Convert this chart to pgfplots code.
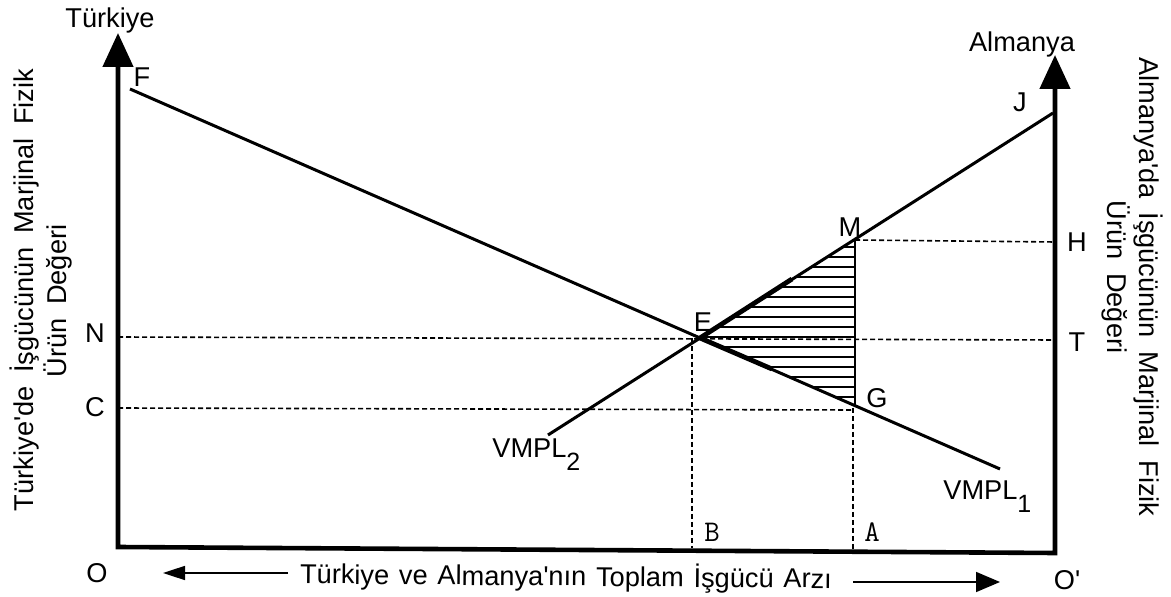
\documentclass[border=0pt]{standalone}
\usepackage{fontspec}
\setmainfont{Liberation Sans}
\usepackage{pgfplots}
\pgfplotsset{compat=1.18}
\usetikzlibrary{arrows.meta,patterns.meta}
\newcommand\ws{\hspace{0.5em}}
\newcommand\ap{\textquotesingle}
\tikzset{
  lab/.style={font=\fontsize{13.6}{16}\selectfont, inner sep=0pt},
  dsh/.style={line width=0.8pt, dash pattern=on 2.6pt off 1.4pt},
}
\begin{document}
\begin{tikzpicture}
\begin{axis}[x=0.5pt,y=0.5pt,y dir=reverse,
  xmin=0,xmax=1171,ymin=0,ymax=597,
  hide axis, clip=false,
]
\path (axis cs:0,0) rectangle (axis cs:1171,597);
% hatched triangle E-M-G
\addplot[draw=none, pattern={Lines[angle=0,distance=5pt,line width=0.55pt]}]
  coordinates {(700,338) (855,240) (855,406)};
% dashed guide lines
\addplot[dsh] coordinates {(118,337) (1055,340)};
\addplot[dsh] coordinates {(118,408) (853,410)};
\addplot[dsh] coordinates {(855,240) (1055,242)};
\addplot[dsh, line width=1.1pt] coordinates {(692,338) (692,548)};
\addplot[dsh, line width=1.1pt] coordinates {(853,408) (853,550)};
% VMPL curves
\addplot[line width=1.5pt] coordinates {(130,89) (1000,469)};
\addplot[line width=1.5pt] coordinates {(548,435) (1053,113)};
\addplot[line width=2.4pt] coordinates {(700,338) (792,279)};
\addplot[line width=2.4pt] coordinates {(700,338) (772,369)};
% vertical M-G
\addplot[line width=1.4pt] coordinates {(855,240) (855,407)};
% axes
\addplot[line width=2.3pt, line join=miter,
  {Triangle[length=17pt,width=15pt]}-{Triangle[length=17pt,width=15pt]}]
  coordinates {(118,33) (118,547) (1055,553) (1055,55)};
% bottom arrows
\addplot[line width=0.8pt, -{Triangle[length=11pt,width=7pt]}] coordinates {(288,573) (163,573)};
\addplot[line width=0.8pt, -{Triangle[length=12pt,width=10pt]}] coordinates {(853,582) (1000,582)};
% labels
\node[lab] at (axis cs:110,20) {Türkiye};
\node[lab] at (axis cs:1022,44) {Almanya};
\node[lab] at (axis cs:142,77) {F};
\node[lab] at (axis cs:1020,102) {J};
\node[lab] at (axis cs:95,333) {N};
\node[lab] at (axis cs:95,407) {C};
\node[lab] at (axis cs:703,322) {E};
\node[lab] at (axis cs:850,227) {M};
\node[lab] at (axis cs:877,398) {G};
\node[lab] at (axis cs:1077,242) {H};
\node[lab] at (axis cs:1077,342) {T};
\node[lab,anchor=base west] at (axis cs:492,458) {VMPL\raisebox{-6.5pt}{\fontsize{12.5}{14}\selectfont 2}};
\node[lab,anchor=base west] at (axis cs:943,500) {VMPL\raisebox{-6.5pt}{\fontsize{12.5}{14}\selectfont 1}};
\node[lab,font=\fontsize{15}{16}\selectfont\ttfamily] at (axis cs:712,532) {B};
\node[lab,font=\fontsize{15}{16}\selectfont\ttfamily] at (axis cs:872,532) {A};
\node[lab] at (axis cs:97,573) {O};
\node[lab] at (axis cs:1067,580) {O\ap};
\node[lab,rotate=-0.5] at (axis cs:566,577) {Türkiye\hspace{0.36em}ve\hspace{0.36em}Almanya\ap nın\hspace{0.36em}Toplam\hspace{0.36em}İşgücü\hspace{0.36em}Arzı};
\node[lab,rotate=90] at (axis cs:25,290) {Türkiye\ap de\ws İşgücünün\ws Marjinal\ws Fizik};
\node[lab,rotate=90] at (axis cs:58,301) {Ürün\ws Değeri};
\node[lab,rotate=-90] at (axis cs:1148,287) {Almanya\ap da\ws İşgücünün\ws Marjinal\ws Fizik};
\node[lab,rotate=-90] at (axis cs:1116,277) {Ürün\ws Değeri};
\end{axis}
\end{tikzpicture}
\end{document}
